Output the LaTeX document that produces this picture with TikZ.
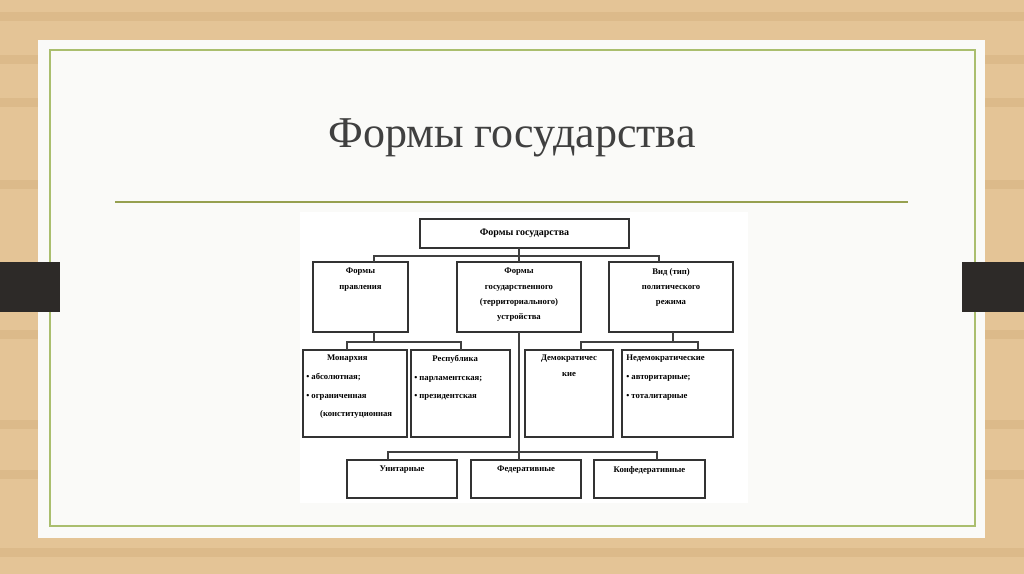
\documentclass[tikz,border=0pt]{standalone}
\usepackage{fontspec}
\setmainfont{Liberation Serif}
\begin{document}
\begin{tikzpicture}[x=0.75pt,y=-0.75pt,
  bx/.style={draw=black!80,line width=0.9pt},
  tx/.style={inner sep=0pt,align=center,font=\fontsize{6.5}{11.5}\selectfont\bfseries},
  ln/.style={draw=black!75,line width=0.8pt}]
\useasboundingbox (0,0) rectangle (1024,574);
\fill[color={rgb,255:red,228;green,196;blue,150}] (0,0) rectangle (1024,574);
\foreach \yy in {12,55,98,180,330,420,470,548}{\fill[color={rgb,255:red,214;green,178;blue,128},opacity=0.5] (0,\yy) rectangle (1024,\yy+9);}
\fill[color={rgb,255:red,250;green,250;blue,248}] (38,40) rectangle (985,538);
\draw[color={rgb,255:red,170;green,190;blue,110},line width=0.8pt] (50,50) rectangle (975,526);
\fill[color={rgb,255:red,45;green,42;blue,40}] (0,262) rectangle (60,312);
\fill[color={rgb,255:red,45;green,42;blue,40}] (962,262) rectangle (1024,312);
\node[font=\fontsize{33}{36}\selectfont,text=black!75] (title) at (512,138) {Формы государства};
\draw[color={rgb,255:red,150;green,160;blue,80},line width=0.8pt] (115,202) -- (908,202);
\fill[white] (300,212) rectangle (748,503);
% boxes
\draw[bx] (420,219) rectangle (629,248); \node[tx,font=\fontsize{7.5}{9}\selectfont\bfseries] (top) at (524.5,233.5) {Формы государства};
\draw[bx] (313,262) rectangle (408,332); \node[tx,anchor=north] (a) at (360.5,268) {Формы\\правления};
\draw[bx] (457,262) rectangle (581,332); \node[tx,anchor=north] (b) at (519,268) {Формы\\государственного\\(территориального)\\устройства};
\draw[bx] (609,262) rectangle (733,332); \node[tx,anchor=north] (c) at (671,268) {Вид (тип)\\политического\\режима};
\draw[bx] (303,350) rectangle (407,437); \node[tx,anchor=north west,align=left,font=\fontsize{6.5}{14}\selectfont\bfseries] (m) at (306,355) {\hspace{2.4em}Монархия\\• абсолютная;\\• ограниченная\\\hspace{1.6em}(конституционная};
\draw[bx] (411,350) rectangle (510,437); \node[tx,anchor=north west,align=left,font=\fontsize{6.5}{14}\selectfont\bfseries] (r) at (414,355) {\hspace{2.1em}Республика\\• парламентская;\\• президентская};
\draw[bx] (525,350) rectangle (613,437); \node[tx,anchor=north] (d) at (569,355) {Демократичес\\кие};
\draw[bx] (622,350) rectangle (733,437); \node[tx,anchor=north west,align=left,font=\fontsize{6.5}{14}\selectfont\bfseries] (n) at (626,355) {Недемократические\\• авторитарные;\\• тоталитарные};
\draw[bx] (347,460) rectangle (457,498); \node[tx,anchor=north] (u) at (402,466) {Унитарные};
\draw[bx] (471,460) rectangle (581,498); \node[tx,anchor=north] (f) at (526,466) {Федеративные};
\draw[bx] (594,460) rectangle (705,498); \node[tx,anchor=north] (k) at (649.5,466) {Конфедеративные};
% connectors
\draw[ln] (519,248) -- (519,256) (374,262) -- (374,256) -- (659,256) -- (659,262) (519,256) -- (519,262);
\draw[ln] (374,332) -- (374,342) (347,350) -- (347,342) -- (461,342) -- (461,350);
\draw[ln] (673,332) -- (673,342) (581,350) -- (581,342) -- (698,342) -- (698,350);
\draw[ln] (519,332) -- (519,452) (388,460) -- (388,452) -- (657,452) -- (657,460) (519,452) -- (519,460);
\end{tikzpicture}
\end{document}
